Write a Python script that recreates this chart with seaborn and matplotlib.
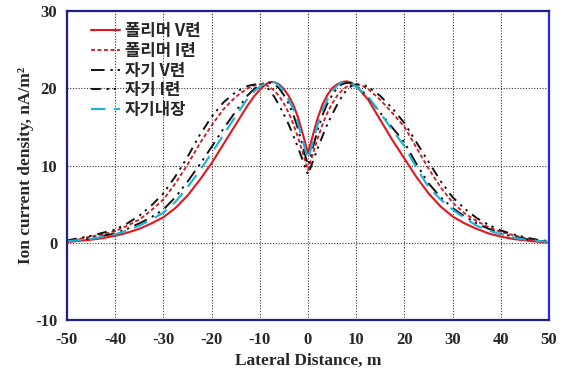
import matplotlib
matplotlib.use("Agg")
import matplotlib.pyplot as plt
import seaborn as sns
import pandas as pd
from matplotlib.ticker import MultipleLocator

x = [-50, -47.5, -45, -42.5, -40, -37.5, -35, -32.5, -30, -27.5, -25, -22.5, -20, -17.5, -15, -12.5,
     -11, -10, -9, -8, -7, -6, -5, -4, -3, -2, -1, 0,
     1, 2, 3, 4, 5, 6, 7, 8, 9, 10, 11, 12.5, 15, 17.5, 20, 22.5, 25, 27.5, 30, 32.5, 35, 37.5,
     40, 42.5, 45, 47.5, 50]

poly_v = [0.1, 0.25, 0.4, 0.6, 0.9, 1.3, 1.8, 2.5, 3.3, 4.5, 6.1, 8.1, 10.3, 12.8, 15.3, 17.8,
          19.1, 19.8, 20.4, 20.8, 20.8, 20.5, 19.9, 19.0, 17.8, 16.1, 13.9, 11.6,
          13.9, 16.1, 17.9, 19.1, 20.0, 20.5, 20.8, 20.9, 20.7, 20.2, 19.6, 18.5, 15.9, 13.3, 10.9,
          8.5, 6.4, 4.7, 3.4, 2.5, 1.8, 1.2, 0.8, 0.5, 0.3, 0.15, 0.0]
poly_i = [0.2, 0.5, 0.8, 1.1, 1.5, 2.2, 3.0, 4.2, 5.6, 7.7, 10.1, 12.8, 15.2, 17.3, 18.9, 20.0,
          20.4, 20.5, 20.5, 20.2, 19.7, 19.0, 18.0, 16.8, 15.3, 13.5, 11.5, 9.4,
          11.5, 13.5, 15.3, 16.8, 18.0, 19.0, 19.7, 20.2, 20.5, 20.5, 20.4, 19.9, 18.5, 16.8, 15.0,
          12.3, 9.6, 7.2, 5.2, 3.8, 2.8, 2.0, 1.4, 1.0, 0.6, 0.3, 0.1]
jagi_v = [0.2, 0.4, 0.6, 0.9, 1.2, 1.8, 2.5, 3.3, 4.3, 5.9, 7.9, 10.1, 12.4, 14.8, 17.0, 19.1,
          20.0, 20.4, 20.7, 20.7, 20.5, 20.0, 19.1, 18.0, 16.5, 14.6, 12.3, 10.0,
          12.3, 14.6, 16.5, 18.0, 19.1, 20.0, 20.5, 20.7, 20.7, 20.3, 19.8, 18.8, 16.8, 14.9, 13.0,
          10.2, 7.7, 5.9, 4.5, 3.4, 2.5, 1.8, 1.2, 0.8, 0.5, 0.3, 0.1]
jagi_i = [0.3, 0.6, 0.9, 1.3, 1.7, 2.5, 3.5, 4.8, 6.4, 8.6, 11.1, 13.9, 16.3, 18.2, 19.5, 20.3,
          20.5, 20.5, 20.3, 19.8, 18.9, 17.8, 16.6, 15.3, 13.8, 12.2, 10.5, 8.8,
          10.5, 12.2, 13.8, 15.3, 16.6, 17.8, 18.9, 19.8, 20.3, 20.5, 20.5, 20.2, 19.0, 17.4, 15.5,
          13.0, 10.5, 8.0, 5.9, 4.4, 3.2, 2.3, 1.6, 1.1, 0.7, 0.4, 0.2]
jagi_built = [0.2, 0.35, 0.5, 0.8, 1.1, 1.6, 2.2, 3.0, 3.9, 5.3, 7.2, 9.3, 11.6, 14.0, 16.4, 18.7,
              19.7, 20.2, 20.6, 20.8, 20.8, 20.3, 19.6, 18.5, 17.2, 15.3, 13.0, 10.8,
              13.0, 15.3, 17.2, 18.5, 19.6, 20.3, 20.8, 20.8, 20.6, 20.2, 19.7, 18.9, 16.8, 14.6, 12.5,
              9.7, 7.2, 5.6, 4.3, 3.2, 2.2, 1.6, 1.1, 0.7, 0.4, 0.25, 0.1]

labels = ["폴리머 V련", "폴리머 I련", "자기 V련", "자기 I련", "자기내장"]
series = [poly_v, poly_i, jagi_v, jagi_i, jagi_built]
colors = ["#e8141c", "#d8141c", "#111111", "#111111", "#18b4d8"]
styles = ["-", (0, (2.2, 1.4)), (0, (7, 3, 1.2, 2.5, 1.2, 3)), (0, (5, 3, 1.2, 2.5, 1.2, 3)), (0, (7, 4))]
widths = [1.5, 1.3, 1.4, 1.4, 1.5]

sns.set_style("white")
plt.rcParams["font.family"] = ["Liberation Serif", "DejaVu Sans"]
plt.rcParams["axes.unicode_minus"] = False

fig = plt.figure(figsize=(5.65, 3.71), dpi=100)
ax = fig.add_axes([67/565, 1-320/371, (549-67)/565, (320-11)/371])

for lab, ys, c, ls, lw in zip(labels, series, colors, styles, widths):
    df = pd.DataFrame({"x": x, "y": ys})
    sns.lineplot(data=df, x="x", y="y", ax=ax, color=c, linestyle=ls, linewidth=lw,
                 label=lab, sort=False, estimator=None)

ax.set_xlim(-50, 50)
ax.set_ylim(-10, 30)
ax.xaxis.set_major_locator(MultipleLocator(10))
ax.xaxis.set_minor_locator(MultipleLocator(5))
ax.yaxis.set_major_locator(MultipleLocator(10))
ax.yaxis.set_minor_locator(MultipleLocator(2))
ax.grid(True, which="major", color="#333333", linestyle=(0, (1, 1.5)), linewidth=0.8)
ax.tick_params(which="major", direction="out", length=4, width=1, color="#1f1f7a",
               labelsize=12, pad=3)
ax.tick_params(axis="x", which="major", pad=5)
ax.tick_params(which="minor", direction="out", length=3, width=1, color="#1f1f7a")
ax.tick_params(axis="x", which="minor", direction="in")
for t in ax.get_xticklabels() + ax.get_yticklabels():
    t.set_fontweight("bold")
for side, sp in ax.spines.items():
    sp.set_color("#1f1f8a")
    sp.set_linewidth(1.6)
ax.spines["right"].set_color("#2a2ae0")

ax.set_xlabel("Lateral Distance, m", fontsize=12.5, fontweight="bold", labelpad=3)
ax.set_ylabel("Ion current density, nA/m²", fontsize=12.5, fontweight="bold", labelpad=1)

leg = ax.legend(loc="upper left", bbox_to_anchor=(0.035, 0.985), frameon=False,
                prop={"family": ["Noto Sans CJK KR", "DejaVu Sans"], "weight": "bold", "size": 12},
                handlelength=1.75, handletextpad=0.3, labelspacing=0.1, borderaxespad=0)
fig.savefig("out.png", dpi=100)
